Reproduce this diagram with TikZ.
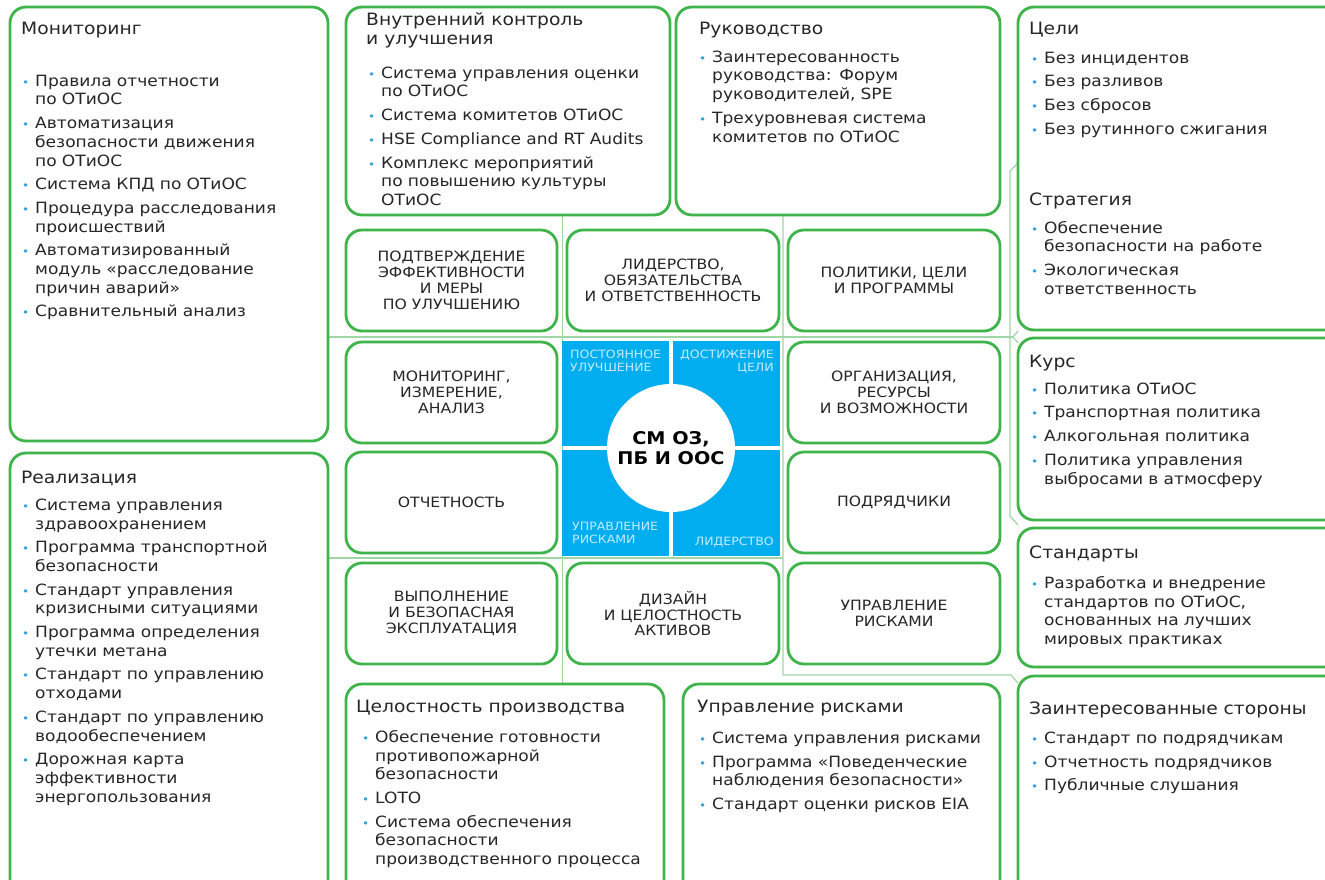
\documentclass[tikz,border=0pt]{standalone}
\usepackage{fontspec}
\setmainfont{DejaVu Sans}[FakeStretch=1.1]
\definecolor{grn}{RGB}{62,180,74}
\definecolor{lgrn}{RGB}{160,214,166}
\definecolor{blu}{RGB}{0,174,239}
\definecolor{txt}{RGB}{38,38,38}
\definecolor{bul}{RGB}{52,160,222}
\definecolor{blabel}{RGB}{196,234,252}
\newcommand\bodyf{\fontsize{15.5}{18.7}\selectfont}
\newcommand\titlef{\fontsize{17}{19}\selectfont}
\newcommand\capf{\fontsize{14.2}{15.8}\selectfont}
\newcommand\lblf{\fontsize{11.4}{13.5}\selectfont}
\newcommand\ctrf{\fontsize{17.5}{20}\selectfont\bfseries}
\newlength\igap \setlength\igap{5pt}
\newif\iffirstitm
\newcommand\bult{\makebox[14pt][l]{\hspace{1pt}\textcolor{bul}{\fontsize{11}{11}\selectfont •}}}
\newcommand\itm[1]{\iffirstitm\global\firstitmfalse\else\vspace{\igap}\fi\noindent\hangindent=14pt\hangafter=1\strut\bult#1\par}
\begin{document}
\begin{tikzpicture}[x=1pt,y=-1pt,
  obox/.style={draw=grn, line width=2.8pt, rounded corners=16pt, fill=white, inner sep=0pt},
  ibox/.style={obox, minimum width=211pt, minimum height=101pt, align=center, font=\capf, text=txt},
  thin/.style={draw=lgrn, line width=1.2pt},
  ttl/.style={anchor=north west, inner sep=0pt, font=\titlef, text=txt, align=left},
  lst/.style={anchor=north west, inner sep=0pt, text width=290pt, align=left, font=\bodyf, text=txt, execute at begin node=\global\firstitmtrue},
  lbl/.style={inner sep=0pt, font=\lblf, text=blabel}]
\useasboundingbox (0,0) rectangle (1325,879);
\clip (0,0) rectangle (1325,879);
\fill[white] (0,0) rectangle (1325,879);

% connector coordinates
\coordinate (ga) at (562.5,215);
\coordinate (gb) at (562.5,684);
\coordinate (gc) at (783,215);
\coordinate (gd) at (783,675);
\coordinate (ge) at (1011,675);
\coordinate (gf) at (1018,683);
\coordinate (ha) at (328,337);
\coordinate (hb) at (1013,337);
\coordinate (hc) at (1018,331);
\coordinate (hd) at (1018,343);
\coordinate (hh) at (328,558);
\coordinate (hi) at (783,558);
\coordinate (va) at (1018,163);
\coordinate (vb) at (1010,171);
\coordinate (vc) at (1010,516);
\coordinate (vd) at (1018,525);

\draw[thin] (ga) -- (gb);
\draw[thin] (gc) -- (gd) -- (ge) -- (gf);
\draw[thin] (ha) -- (hb);
\draw[thin] (hc) -- (hb) -- (hd);
\draw[thin] (hh) -- (hi);
\draw[thin] (va) -- (vb) -- (vc) -- (vd);

% outer boxes
\node[obox, minimum width=318pt, minimum height=434pt] (mon) at (169,224) {};
\node[obox, minimum width=318pt, minimum height=452pt] (real) at (169,679) {};
\node[obox, minimum width=324pt, minimum height=208pt] (vnk) at (508,111) {};
\node[obox, minimum width=324pt, minimum height=208pt] (ruk) at (838,111) {};
\node[obox, minimum width=327pt, minimum height=323pt] (goal) at (1181.5,168.5) {};
\node[obox, minimum width=327pt, minimum height=182pt] (kurs) at (1181.5,429) {};
\node[obox, minimum width=327pt, minimum height=139pt] (stdb) at (1181.5,597.5) {};
\node[obox, minimum width=327pt, minimum height=229pt] (stake) at (1181.5,790.5) {};
\node[obox, minimum width=318pt, minimum height=221pt] (integ) at (505,794.5) {};
\node[obox, minimum width=317pt, minimum height=221pt] (riskb) at (841.5,794.5) {};

% inner boxes
\node[ibox] (b11) at (451.5,280.5) {ПОДТВЕРЖДЕНИЕ\\ЭФФЕКТИВНОСТИ\\И МЕРЫ\\ПО УЛУЧШЕНИЮ};
\node[ibox, minimum width=212pt] (b12) at (673,280.5) {ЛИДЕРСТВО,\\ОБЯЗАТЕЛЬСТВА\\И ОТВЕТСТВЕННОСТЬ};
\node[ibox, minimum width=212pt] (b13) at (894,280.5) {ПОЛИТИКИ, ЦЕЛИ\\И ПРОГРАММЫ};
\node[ibox] (b21) at (451.5,392.5) {МОНИТОРИНГ,\\ИЗМЕРЕНИЕ,\\АНАЛИЗ};
\node[ibox, minimum width=212pt] (b23) at (894,392.5) {ОРГАНИЗАЦИЯ,\\РЕСУРСЫ\\И ВОЗМОЖНОСТИ};
\node[ibox] (b31) at (451.5,502.5) {ОТЧЕТНОСТЬ};
\node[ibox, minimum width=212pt] (b33) at (894,502.5) {ПОДРЯДЧИКИ};
\node[ibox] (b41) at (451.5,613.5) {ВЫПОЛНЕНИЕ\\И БЕЗОПАСНАЯ\\ЭКСПЛУАТАЦИЯ};
\node[ibox, minimum width=212pt] (b42) at (673,613.5) {ДИЗАЙН\\И ЦЕЛОСТНОСТЬ\\АКТИВОВ};
\node[ibox, minimum width=212pt] (b43) at (894,613.5) {УПРАВЛЕНИЕ\\РИСКАМИ};

% centre
\fill[blu] (562,341) rectangle (669,446);
\fill[blu] (673,341) rectangle (780,446);
\fill[blu] (562,450) rectangle (669,556);
\fill[blu] (673,450) rectangle (780,556);
\node[circle, fill=white, minimum size=128pt, inner sep=0pt, align=center, font=\ctrf, text=black] (ctr) at (671,448) {СМ ОЗ,\\ПБ И ООС};
\node[lbl, anchor=north west, align=left] (l1) at (570,348.5) {\strut ПОСТОЯННОЕ\\УЛУЧШЕНИЕ};
\node[lbl, anchor=north east, align=right] (l2) at (774,348.5) {\strut ДОСТИЖЕНИЕ\\ЦЕЛИ};
\node[lbl, anchor=north west, align=left] (l3) at (572,520.5) {\strut УПРАВЛЕНИЕ\\РИСКАМИ};
\node[lbl, anchor=north east, align=right] (l4) at (774,535.5) {\strut ЛИДЕРСТВО};

% titles
\node[ttl] (monT) at (21,21) {\strut Мониторинг};
\node[ttl] (vnkT) at (366,12) {\strut Внутренний контроль\\и улучшения};
\node[ttl] (rukT) at (699,21) {\strut Руководство};
\node[ttl] (goalT) at (1029,21) {\strut Цели};
\node[ttl] (stratT) at (1029,192) {\strut Стратегия};
\node[ttl] (kursT) at (1029,354) {\strut Курс};
\node[ttl] (stdT) at (1029,545) {\strut Стандарты};
\node[ttl] (stakeT) at (1029,701) {\strut Заинтересованные стороны};
\node[ttl] (realT) at (21,470) {\strut Реализация};
\node[ttl] (integT) at (356,699) {\strut Целостность производства};
\node[ttl] (riskT) at (697,699) {\strut Управление рисками};

% lists
\node[lst] (monL) at (21,73) {\itm{Правила отчетности\newline по ОТиОС}\itm{Автоматизация\newline безопасности движения\newline по ОТиОС}\itm{Система КПД по ОТиОС}\itm{Процедура расследования\newline происшествий}\itm{Автоматизированный\newline модуль «расследование\newline причин аварий»}\itm{Сравнительный анализ}};
\node[lst] (vnkL) at (367,65) {\itm{Система управления оценки\newline по ОТиОС}\itm{Система комитетов ОТиОС}\itm{HSE Compliance and RT Audits}\itm{Комплекс мероприятий\newline по повышению культуры\newline ОТиОС}};
\node[lst] (rukL) at (698,49) {\itm{Заинтересованность\newline руководства: Форум\newline руководителей, SPE}\itm{Трехуровневая система\newline комитетов по ОТиОС}};
\node[lst] (goalL) at (1030,50) {\itm{Без инцидентов}\itm{Без разливов}\itm{Без сбросов}\itm{Без рутинного сжигания}};
\node[lst] (stratL) at (1030,220) {\itm{Обеспечение\newline безопасности на работе}\itm{Экологическая\newline ответственность}};
\node[lst] (kursL) at (1030,381) {\itm{Политика ОТиОС}\itm{Транспортная политика}\itm{Алкогольная политика}\itm{Политика управления\newline выбросами в атмосферу}};
\node[lst] (stdL) at (1030,575) {\itm{Разработка и внедрение\newline стандартов по ОТиОС,\newline основанных на лучших\newline мировых практиках}};
\node[lst] (stakeL) at (1030,730) {\itm{Стандарт по подрядчикам}\itm{Отчетность подрядчиков}\itm{Публичные слушания}};
\node[lst] (realL) at (21,497) {\itm{Система управления\newline здравоохранением}\itm{Программа транспортной\newline безопасности}\itm{Стандарт управления\newline кризисными ситуациями}\itm{Программа определения\newline утечки метана}\itm{Стандарт по управлению\newline отходами}\itm{Стандарт по управлению\newline водообеспечением}\itm{Дорожная карта\newline эффективности\newline энергопользования}};
\node[lst] (integL) at (361,729) {\itm{Обеспечение готовности\newline противопожарной\newline безопасности}\itm{LOTO}\itm{Система обеспечения\newline безопасности\newline производственного процесса}};
\node[lst] (riskL) at (698,730) {\itm{Система управления рисками}\itm{Программа «Поведенческие\newline наблюдения безопасности»}\itm{Стандарт оценки рисков EIA}};
\end{tikzpicture}
\end{document}
